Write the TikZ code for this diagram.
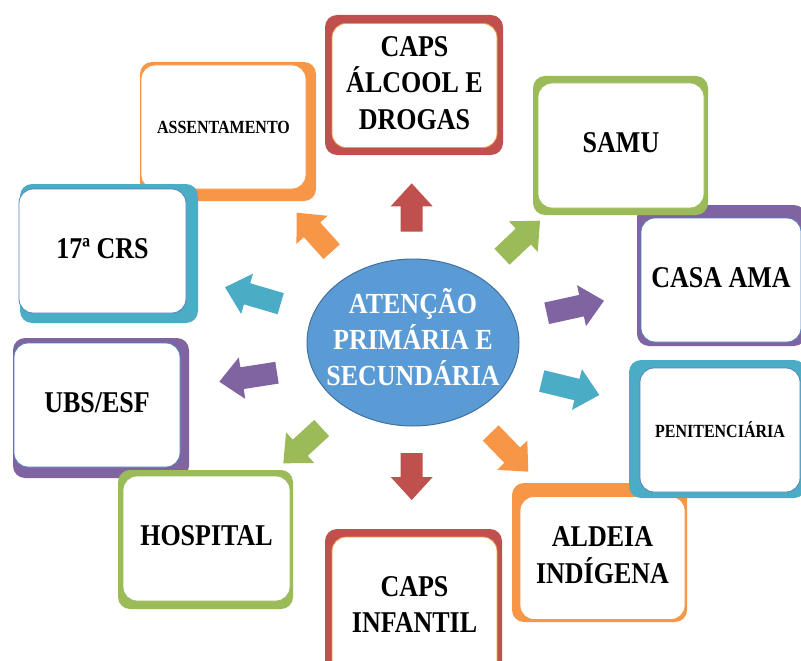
\documentclass[tikz,border=0pt]{standalone}
\usepackage{fontspec}
\usepackage{graphicx}
\setmainfont{Liberation Serif}
\usetikzlibrary{calc}
\definecolor{cred}{HTML}{C0504D}
\definecolor{corange}{HTML}{F79646}
\definecolor{cgreen}{HTML}{9BBB59}
\definecolor{cpurple}{HTML}{8064A2}
\definecolor{cteal}{HTML}{4BACC6}
\definecolor{cblue}{HTML}{5B9BD5}
\definecolor{cblueline}{HTML}{41719C}
\definecolor{cinline}{HTML}{4F81BD}
\newcommand\btx[1]{\fontsize{26}{31.5}\selectfont\bfseries\scalebox{1}[1.16]{\begin{tabular}{@{}c@{}}#1\end{tabular}}}
\newcommand\stx[1]{\fontsize{16}{19}\selectfont\bfseries\scalebox{1}[1.16]{#1}}
\newcommand\etx[1]{\fontsize{26}{32}\selectfont\bfseries\scalebox{1}[1.12]{\begin{tabular}{@{}c@{}}#1\end{tabular}}}
\newcommand\blkarrow[3]{%
  \fill[#1] let \p1=($(#3)-(#2)$), \n1={atan2(\y1,\x1)}, \n2={veclen(\x1,\y1)} in
    [shift={(#2)}, rotate=\n1] (0,-11) -- ({\n2-23},-11) -- ({\n2-23},-21) -- ({\n2},0)
    -- ({\n2-23},21) -- ({\n2-23},11) -- (0,11) -- cycle;}
\begin{document}
\begin{tikzpicture}[x=1pt,y=-1pt,
  backbox/.style={rounded corners=12pt},
  inbox/.style={rectangle, rounded corners=14pt, fill=white, line width=0.8pt, inner sep=0pt, text=black, align=center},
  hubfill/.style={fill=cblue, draw=cblueline, line width=1pt},
  hubtext/.style={inner sep=0pt, text=white, align=center}]
\clip (0,0) rectangle (801,661);
\fill[white] (0,0) rectangle (801,661);

% ASSENTAMENTO
\fill[corange, backbox] (140,62) rectangle (316,201);
\node[inbox, draw=corange, minimum width=165pt, minimum height=124pt] (assent) at (223.5,127) {\stx{ASSENTAMENTO}};
% 17a CRS
\fill[cteal, backbox] (20,184) rectangle (198,323);
\node[inbox, draw=cinline, minimum width=167pt, minimum height=124pt] (crs) at (102.5,251) {\btx{17ª CRS}};
% CAPS ALCOOL E DROGAS
\fill[cred, backbox] (325,15) rectangle (503,155);
\node[inbox, draw=corange, minimum width=165pt, minimum height=124pt] (capsad) at (414.5,85.5) {\btx{CAPS\\ÁLCOOL E\\DROGAS}};
% CASA AMA
\fill[cpurple, backbox] (637,205) rectangle (806,346);
\node[inbox, draw=cinline, minimum width=160pt, minimum height=124pt] (casa) at (721,280) {\btx{CASA AMA}};
% SAMU
\fill[cgreen, backbox] (533,76) rectangle (708,215);
\node[inbox, draw=cgreen, minimum width=166pt, minimum height=125pt] (samu) at (621,145.5) {\btx{SAMU}};
% UBS/ESF
\fill[cpurple, backbox] (13,338) rectangle (189,478);
\node[inbox, draw=cinline, minimum width=166pt, minimum height=124pt] (ubs) at (97,405) {\btx{UBS/ESF}};
% HOSPITAL
\fill[cgreen, backbox] (118,470) rectangle (293,609);
\node[inbox, draw=cgreen, minimum width=167pt, minimum height=125pt] (hosp) at (206.5,538.5) {\btx{HOSPITAL}};
% CAPS INFANTIL
\fill[cred, backbox] (325,529) rectangle (502,690);
\node[inbox, draw=corange, minimum width=165pt, minimum height=140pt] (capsi) at (414.5,607) {\btx{CAPS\\INFANTIL}};
% ALDEIA INDIGENA
\fill[corange, backbox] (512,483) rectangle (687,622);
\node[inbox, draw=corange, minimum width=165pt, minimum height=123pt] (aldeia) at (602.5,558) {\btx{ALDEIA\\INDÍGENA}};
% PENITENCIARIA
\fill[cteal, backbox] (629,360) rectangle (806,498);
\node[inbox, draw=cinline, minimum width=160pt, minimum height=124pt] (penit) at (720,430) {\stx{PENITENCIÁRIA}};

% hub
\path[hubfill] (413,342.5) ellipse [x radius=106, y radius=83.5];
\node[hubtext] (hub) at (413,342) {\etx{ATENÇÃO\\PRIMÁRIA E\\SECUNDÁRIA}};

% arrow end points
\coordinate (t1) at (411.7,231.7); \coordinate (h1) at (411.7,183.3);
\coordinate (t2) at (331.7,251.7); \coordinate (h2) at (296.7,212.7);
\coordinate (t3) at (502,256.7);   \coordinate (h3) at (540,220.7);
\coordinate (t4) at (280.7,303.7); \coordinate (h4) at (225,287.3);
\coordinate (t5) at (546.7,313.3); \coordinate (h5) at (604,300.7);
\coordinate (t6) at (277,372.7);   \coordinate (h6) at (219.3,381.7);
\coordinate (t7) at (541.7,381);   \coordinate (h7) at (599.3,395);
\coordinate (t8) at (321.7,428);   \coordinate (h8) at (283.3,463.3);
\coordinate (t9) at (411.7,453);   \coordinate (h9) at (411.7,500);
\coordinate (t10) at (490.7,433);  \coordinate (h10) at (528.3,471.7);

\blkarrow{cred}{t1}{h1}
\blkarrow{corange}{t2}{h2}
\blkarrow{cgreen}{t3}{h3}
\blkarrow{cteal}{t4}{h4}
\blkarrow{cpurple}{t5}{h5}
\blkarrow{cpurple}{t6}{h6}
\blkarrow{cteal}{t7}{h7}
\blkarrow{cgreen}{t8}{h8}
\blkarrow{cred}{t9}{h9}
\blkarrow{corange}{t10}{h10}
\end{tikzpicture}
\end{document}
